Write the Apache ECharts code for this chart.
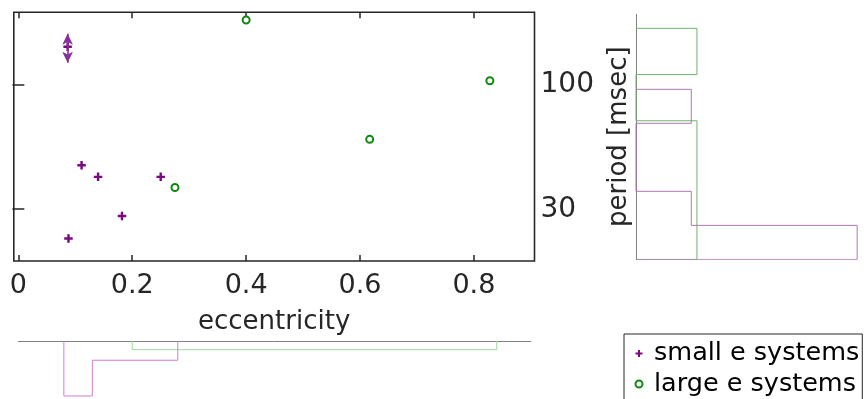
<!DOCTYPE html>
<html><head><meta charset="utf-8">
<script src="https://cdn.jsdelivr.net/npm/echarts@6/dist/echarts.min.js"></script>
<style>html,body{margin:0;padding:0;background:#fff}#c{width:866px;height:399px}</style>
</head><body><div id="c"></div>
<script>
// ---- data ----
const xTicks = [0, 0.2, 0.4, 0.6, 0.8];
const yTicks = [30, 100];
const smallE = [0.111, 0.140, 0.250, 0.182, 0.088, 0.0865];
const smallPeriod = [45.9, 41.0, 41.0, 28.1, 22.6, 144.0];
const largeE = [0.400, 0.828, 0.617, 0.275];
const largePeriod = [186.3, 103.7, 58.9, 37.0];
// error range (arrow) for the last small-e point
const errE = [0.0865];
const errUpper = [163.0];
const errLower = [123.3];
// period histograms (bin edges in msec, bottom-up; density values)
const periodEdgesSmall = [18.5, 25.7, 35.7, 49.5, 68.8, 95.5];
const periodDensSmall = [4.68, 1.17, 0, 0, 1.17];
const periodEdgesLarge = [18.5, 28.9, 45.2, 70.5, 110.1, 172.0];
const periodDensLarge = [1.29, 1.29, 1.29, 0, 1.29];
// eccentricity histograms
const eccEdgesSmall = [0.08, 0.13, 0.28];
const eccDensSmall = [10, 3.5];
const eccEdgesLarge = [0.20, 0.84];
const eccDensLarge = [1.58];

const lg = v => Math.log10(v);
const FONT = 'DejaVu Sans';
const INK = '#262626';
const PURPLE = '#7a0a82';
const GREEN = '#118811';

function stairsV(edges, dens) { // vertical bins: x=density, y=log period
  const pts = [[0, lg(edges[0])]];
  for (let i = 0; i < dens.length; i++) {
    pts.push([dens[i], lg(edges[i])]);
    pts.push([dens[i], lg(edges[i + 1])]);
  }
  pts.push([0, lg(edges[edges.length - 1])]);
  return pts;
}
function stairsH(edges, dens) {
  const pts = [[edges[0], 0]];
  for (let i = 0; i < dens.length; i++) {
    pts.push([edges[i], dens[i]]);
    pts.push([edges[i + 1], dens[i]]);
  }
  pts.push([edges[edges.length - 1], 0]);
  return pts;
}

const chart = echarts.init(document.getElementById('c'), null, {renderer: 'canvas'});
const tickStyle = {color: INK, width: 1.5};
const xMin = -0.008, xMax = 0.9064;
const yMin = lg(18.2), yMax = lg(200.7);

chart.setOption({
  animation: false,
  backgroundColor: '#fff',
  grid: [
    {left: 13.8, top: 12.3, width: 520.7, height: 248.7, show: true, borderColor: INK, borderWidth: 1.6, backgroundColor: 'transparent', containLabel: false, outerBoundsMode: 'none'},
    {left: 636, top: 14.3, width: 230, height: 245, containLabel: false, outerBoundsMode: 'none'},
    {left: 18.3, top: 341, width: 512.6, height: 58, containLabel: false, outerBoundsMode: 'none'}
  ],
  xAxis: [
    {gridIndex: 0, type: 'value', min: xMin, max: xMax, position: 'bottom',
     axisLine: {show: false}, splitLine: {show: false},
     axisTick: {inside: true, length: 6, customValues: xTicks, lineStyle: tickStyle},
     axisLabel: {customValues: xTicks, fontSize: 27, color: INK, margin: 11, fontFamily: FONT, formatter: v => String(v)},
     name: 'eccentricity', nameLocation: 'middle', nameGap: 48,
     nameTextStyle: {fontSize: 26, color: INK, fontFamily: FONT}},
    {gridIndex: 0, type: 'value', min: xMin, max: xMax, position: 'top',
     axisLine: {show: false}, splitLine: {show: false},
     axisTick: {inside: true, length: 6, customValues: xTicks, lineStyle: tickStyle},
     axisLabel: {show: false}},
    {gridIndex: 1, type: 'value', min: 0, max: 4.867, show: false},
    {gridIndex: 2, type: 'value', min: 0, max: 0.9, position: 'top',
     axisLine: {show: true, onZero: false, lineStyle: {color: '#808080', width: 1}},
     axisTick: {show: false}, axisLabel: {show: false}, splitLine: {show: false}}
  ],
  yAxis: [
    {gridIndex: 0, type: 'value', min: yMin, max: yMax, position: 'right',
     axisLine: {show: false}, splitLine: {show: false},
     axisTick: {inside: true, length: 6, customValues: yTicks.map(lg), lineStyle: tickStyle},
     axisLabel: {customValues: yTicks.map(lg), fontSize: 28, color: INK, margin: 6, fontFamily: FONT,
                 formatter: v => String(Math.round(Math.pow(10, v)))}},
    {gridIndex: 0, type: 'value', min: yMin, max: yMax, position: 'left',
     axisLine: {show: false}, splitLine: {show: false},
     axisTick: {inside: true, length: 6, customValues: yTicks.map(lg), lineStyle: tickStyle},
     axisLabel: {show: false}},
    {gridIndex: 1, type: 'value', min: lg(18.53), max: lg(196.9),
     axisLine: {show: true, onZero: false, lineStyle: {color: '#808080', width: 1}},
     axisTick: {show: false}, axisLabel: {show: false}, splitLine: {show: false}},
    {gridIndex: 2, type: 'value', min: 0, max: 10.55, inverse: true, show: false}
  ],
  legend: {
    orient: 'vertical', left: 624, top: 334, height: 200, width: 260, selectedMode: false,
    borderColor: INK, borderWidth: 1, padding: [6.5, 3, 20, 10.5],
    itemWidth: 20, itemHeight: 7, itemGap: 4.5,
    textStyle: {fontSize: 25.5, color: '#000', fontFamily: FONT},
    data: ['small e systems', 'large e systems']
  },
  graphic: [
    {type: 'text', x: 619.5, y: 136.7, rotation: Math.PI / 2,
     style: {text: 'period [msec]', font: '26px "DejaVu Sans"', fill: INK, align: 'center', verticalAlign: 'middle'}}
  ],
  series: [
    {name: 'small e systems', type: 'scatter', xAxisIndex: 0, yAxisIndex: 0,
     symbol: 'path://M2.85,0H5.15V2.85H8V5.15H5.15V8H2.85V5.15H0V2.85H2.85Z', symbolSize: 8.5,
     itemStyle: {color: PURPLE, opacity: 1},
     data: smallE.map((e, i) => [e, lg(smallPeriod[i])]),
     markLine: {silent: true, symbol: ['arrow', 'arrow'], symbolSize: [8, 11],
       label: {show: false}, lineStyle: {color: '#86319a', width: 1.6, type: 'solid', opacity: 1},
       data: errE.map((e, i) => [{coord: [e, lg(errUpper[i])]}, {coord: [e, lg(errLower[i])]}])}},
    {name: 'large e systems', type: 'scatter', xAxisIndex: 0, yAxisIndex: 0,
     symbol: 'circle', symbolSize: 7,
     itemStyle: {color: '#fff', borderColor: GREEN, borderWidth: 2, opacity: 1},
     data: largeE.map((e, i) => [e, lg(largePeriod[i])])},
    {type: 'line', xAxisIndex: 2, yAxisIndex: 2, showSymbol: false, silent: true,
     lineStyle: {color: '#6db56d', width: 1}, data: stairsV(periodEdgesLarge, periodDensLarge)},
    {type: 'line', xAxisIndex: 2, yAxisIndex: 2, showSymbol: false, silent: true,
     lineStyle: {color: '#b077b5', width: 1}, data: stairsV(periodEdgesSmall, periodDensSmall)},
    {type: 'line', xAxisIndex: 3, yAxisIndex: 3, showSymbol: false, silent: true,
     lineStyle: {color: '#9fd89f', width: 1}, data: stairsH(eccEdgesLarge, eccDensLarge)},
    {type: 'line', xAxisIndex: 3, yAxisIndex: 3, showSymbol: false, silent: true,
     lineStyle: {color: '#cf7fcf', width: 1}, data: stairsH(eccEdgesSmall, eccDensSmall)}
  ]
});
</script></body></html>
